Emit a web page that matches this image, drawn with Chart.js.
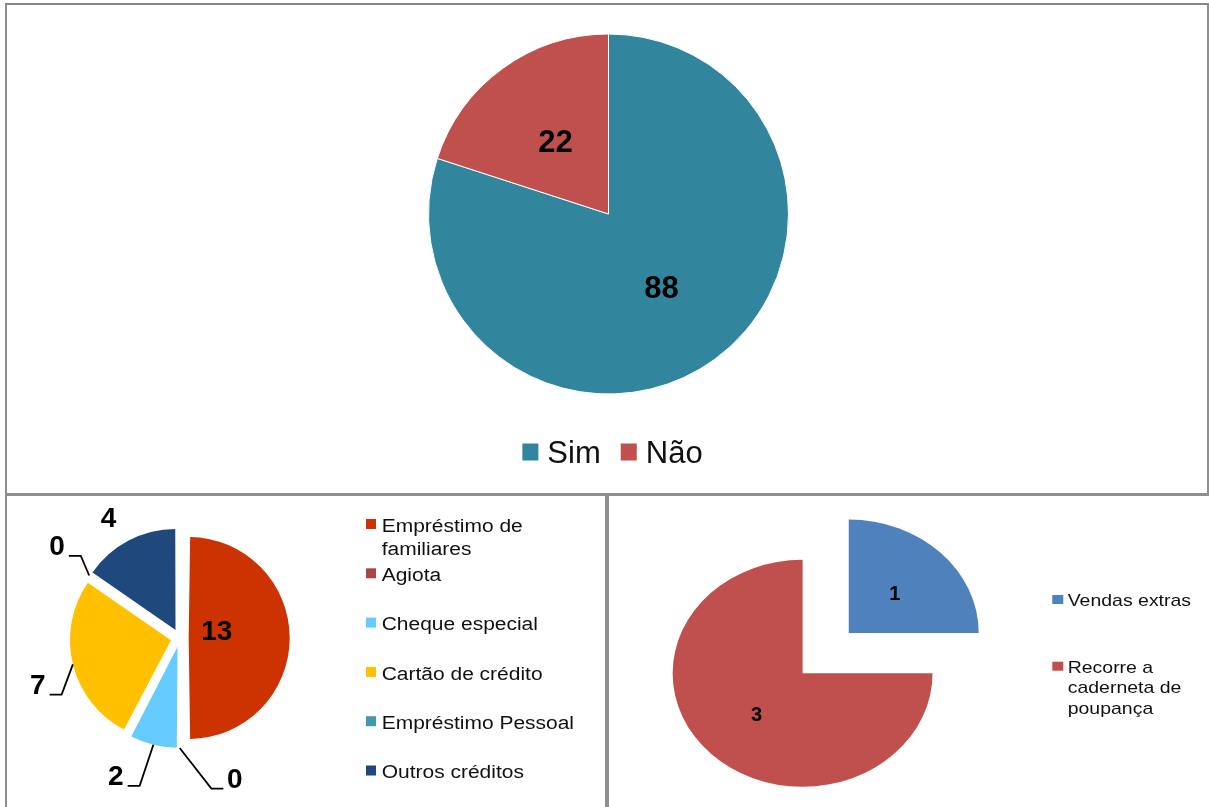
<!DOCTYPE html>
<html><head><meta charset="utf-8">
<script src="https://cdn.jsdelivr.net/npm/chart.js@4.4.1/dist/chart.umd.min.js"></script>
<style>
html,body{margin:0;padding:0;background:#fff;width:1209px;height:807px;overflow:hidden;position:relative}
.panel{position:absolute;box-sizing:border-box;border:2px solid #8f8f8f;}
canvas{position:absolute}
</style></head><body>
<div class="panel" style="left:5px;top:3px;width:1204px;height:492px;border-top-color:#858585"></div>
<div class="panel" style="left:5px;top:494px;width:602px;height:340px"></div>
<div class="panel" style="left:607px;top:494px;width:620px;height:340px"></div>
<canvas id="c1" width="1209" height="494" style="left:0;top:0"></canvas>
<canvas id="c2" width="602" height="311" style="left:7px;top:496px"></canvas>
<canvas id="c3" width="600" height="311" style="left:609px;top:496px"></canvas>
<script>
// ---------- DATA ----------
const chart1Labels = ['Sim', 'Não'];
const chart1Values = [88, 22];
const chart1Colors = ['#31859C', '#C0504D'];

const chart2Labels = ['Empréstimo de familiares', 'Agiota', 'Cheque especial', 'Cartão de crédito', 'Empréstimo Pessoal', 'Outros créditos'];
const chart2Values = [13, 0, 2, 7, 0, 4];
const chart2Colors = ['#CC3300', '#AA4643', '#66CCFF', '#FFC000', '#4198AF', '#1F497D'];

const chart3Labels = ['Vendas extras', 'Recorre a caderneta de poupança'];
const chart3Values = [1, 3];
const chart3Colors = ['#4F81BD', '#C0504D'];

// ---------- LAYOUT ----------
const FONT = '"Liberation Sans", Arial, sans-serif';
const DEG = Math.PI / 180;

function wrapText(ctx, text, maxW) {
  const words = text.split(' ');
  const lines = [];
  let cur = '';
  for (const w of words) {
    const t = cur ? cur + ' ' + w : w;
    if (ctx.measureText(t).width > maxW && cur) { lines.push(cur); cur = w; }
    else cur = t;
  }
  if (cur) lines.push(cur);
  return lines;
}

// keeps visual radius equal for exploded slices
function evenRadiusPlugin(radius) {
  return {
    id: 'evenRadius',
    beforeDatasetsDraw(chart) {
      chart.getDatasetMeta(0).data.forEach(el => {
        const off = (el.options.offset || 0) / 4;
        const fix = 1 - Math.sin(Math.min(Math.PI, el.circumference || 0));
        el.outerRadius = radius - off * fix;
      });
    }
  };
}

function stretchPlugin(sx) {
  return {
    id: 'stretch',
    beforeDatasetsDraw(chart) {
      const el = chart.getDatasetMeta(0).data[0];
      const ctx = chart.ctx;
      ctx.save();
      ctx.translate(el.x, 0); ctx.scale(sx, 1); ctx.translate(-el.x, 0);
    },
    afterDatasetsDraw(chart) { chart.ctx.restore(); }
  };
}

function sliceLabelPlugin(cfg) {
  return {
    id: 'sliceLabels',
    afterDraw(chart) {
      const ctx = chart.ctx, meta = chart.getDatasetMeta(0), vals = chart.data.datasets[0].data;
      ctx.save();
      ctx.font = 'bold ' + cfg.size + 'px ' + FONT; ctx.fillStyle = '#000'; ctx.strokeStyle = '#000'; ctx.lineWidth = 1.8;
      ctx.textAlign = 'center'; ctx.textBaseline = 'alphabetic';
      const sx = cfg.sx || 1;
      meta.data.forEach((el, i) => {
        const mid = (el.startAngle + el.endAngle) / 2;
        const off = (el.options.offset || 0) / 4;
        const fix = 1 - Math.sin(Math.min(Math.PI, el.circumference || 0));
        const R = el.outerRadius + off * fix;
        const tx = el.x + Math.cos(mid) * off, ty = el.y + Math.sin(mid) * off;
        const txt = String(vals[i]);
        const p = cfg.place && cfg.place[i];
        let lx, ly;
        if (p) { const a = (p.ang - 90) * DEG; lx = el.x + Math.cos(a) * p.dist; ly = el.y + Math.sin(a) * p.dist; }
        else { lx = tx + Math.cos(mid) * R * cfg.ratio; ly = ty + Math.sin(mid) * R * cfg.ratio; }
        lx = el.x + (lx - el.x) * sx;
        if (p && p.leader) {
          const ax = tx + Math.cos(mid) * R, ay = ty + Math.sin(mid) * R;
          const w = ctx.measureText(txt).width;
          const hy = ly + 11;
          let x1, x2;
          if (lx < ax) { x1 = lx + w / 2 + 4; x2 = x1 + 12; }
          else { x1 = lx - w / 2 - 3.5; x2 = x1 - 12; }
          ctx.beginPath(); ctx.moveTo(x1, hy); ctx.lineTo(x2, hy); ctx.lineTo(ax, ay); ctx.stroke();
        }
        ctx.fillText(txt, lx, ly + cfg.size * 0.358);
      });
      ctx.restore();
    }
  };
}

function rowLegendPlugin(cfg) {
  return {
    id: 'rowLegend',
    afterDraw(chart) {
      const ctx = chart.ctx, labels = chart.data.labels, colors = chart.data.datasets[0].backgroundColor;
      ctx.save();
      ctx.font = cfg.font; ctx.textBaseline = 'alphabetic'; ctx.textAlign = 'left';
      const widths = labels.map(l => ctx.measureText(l).width);
      let total = 0;
      widths.forEach((w, i) => { total += cfg.boxW + cfg.gap + w + (i ? cfg.itemGap : 0); });
      let x = cfg.cx - total / 2;
      labels.forEach((l, i) => {
        ctx.fillStyle = colors[i];
        ctx.fillRect(x, cfg.y - cfg.boxTop, cfg.boxW, cfg.boxH);
        ctx.fillStyle = cfg.color;
        ctx.fillText(l, x + cfg.boxW + cfg.gap, cfg.y);
        x += cfg.boxW + cfg.gap + widths[i] + cfg.itemGap;
      });
      ctx.restore();
    }
  };
}

function colLegendPlugin(cfg) {
  return {
    id: 'colLegend',
    afterDraw(chart) {
      const ctx = chart.ctx, labels = chart.data.labels, colors = chart.data.datasets[0].backgroundColor;
      ctx.save();
      ctx.font = cfg.font; ctx.textBaseline = 'alphabetic'; ctx.textAlign = 'left';
      labels.forEach((l, i) => {
        const lines = wrapText(ctx, l, cfg.maxWidth / cfg.sx);
        const y0 = cfg.y + i * cfg.pitch;
        ctx.fillStyle = colors[i];
        ctx.fillRect(cfg.boxX, y0 - cfg.boxTop, cfg.boxW, cfg.boxH);
        ctx.fillStyle = cfg.color;
        lines.forEach((ln, k) => {
          ctx.save();
          ctx.translate(cfg.textX, y0 + k * cfg.lineHeight);
          ctx.scale(cfg.sx, 1);
          ctx.fillText(ln, 0, 0);
          ctx.restore();
        });
      });
      ctx.restore();
    }
  };
}

function pieConfig(labels, values, colors, ds, padding, plugins) {
  return {
    type: 'pie',
    data: { labels: labels, datasets: [Object.assign({ data: values, backgroundColor: colors }, ds)] },
    options: {
      responsive: false, animation: false, events: [],
      layout: { padding: padding },
      plugins: { legend: { display: false }, tooltip: { enabled: false } }
    },
    plugins: plugins
  };
}

// ---------- CHART 1 ----------
new Chart(document.getElementById('c1'), pieConfig(
  chart1Labels, chart1Values, chart1Colors,
  { radius: 180, borderWidth: 1, borderColor: '#ffffff' },
  { left: 8, right: 0, top: 0, bottom: 66 },
  [
    sliceLabelPlugin({ size: 31, ratio: 0.5 }),
    rowLegendPlugin({ font: '31px ' + FONT, color: '#111', cx: 612.5, y: 462.5, boxW: 16, boxH: 17, boxTop: 19, gap: 9, itemGap: 20 })
  ]
));

// ---------- CHART 2 ----------
const chart2Place = [
  { ang: 77.8, dist: 38 },
  { ang: 158.5, dist: 150, leader: true },
  { ang: 205, dist: 151, leader: true },
  { ang: 252.2, dist: 149, leader: true },
  { ang: 307.2, dist: 154, leader: true },
  { ang: 329.5, dist: 140 }
];
new Chart(document.getElementById('c2'), pieConfig(
  chart2Labels, chart2Values, chart2Colors,
  { radius: 101, offset: 36, borderWidth: 0 },
  { left: 0, right: 256.6, top: 0, bottom: 27 },
  [
    evenRadiusPlugin(101),
    sliceLabelPlugin({ size: 28, place: chart2Place }),
    colLegendPlugin({ font: '18px ' + FONT, color: '#111', boxX: 359, boxW: 10, boxH: 10, boxTop: 12.7, textX: 374.7, y: 35.7, pitch: 49.3, lineHeight: 23.3, sx: 1.165, maxWidth: 205 })
  ]
));

// ---------- CHART 3 ----------
new Chart(document.getElementById('c3'), pieConfig(
  chart3Labels, chart3Values, chart3Colors,
  { radius: 113.5, offset: [228, 0], borderWidth: 0 },
  { left: 0, right: 212.8, top: 43.6, bottom: 0 },
  [
    stretchPlugin(1.145),
    sliceLabelPlugin({ size: 20, ratio: 0.5, sx: 1.145 }),
    colLegendPlugin({ font: '17px ' + FONT, color: '#111', boxX: 443.3, boxW: 11, boxH: 9, boxTop: 11, textX: 458.7, y: 110, pitch: 66.7, lineHeight: 20.5, sx: 1.145, maxWidth: 140 })
  ]
));
</script>
</body></html>
